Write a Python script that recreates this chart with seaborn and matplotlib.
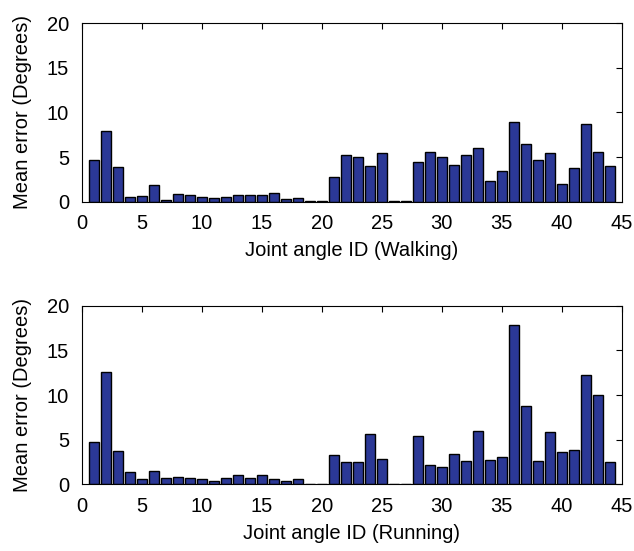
import numpy as np
import pandas as pd
import matplotlib
matplotlib.use("Agg")
import matplotlib.pyplot as plt
import seaborn as sns

joint_ids = list(range(1, 45))
walking = [4.7, 7.87, 3.86, 0.56, 0.6, 1.88, 0.22, 0.83, 0.8, 0.5,
           0.45, 0.5, 0.77, 0.7, 0.73, 0.95, 0.3, 0.45, 0.05, 0.05,
           2.8, 5.28, 5.0, 3.97, 5.43, 0.05, 0.05, 4.5, 5.58, 5.0,
           4.16, 5.28, 6.0, 2.29, 3.41, 8.92, 6.45, 4.7, 5.5, 1.95,
           3.75, 8.73, 5.58, 4.0]
running = [4.77, 12.54, 3.7, 1.34, 0.6, 1.49, 0.67, 0.78, 0.75, 0.6,
           0.37, 0.71, 1.08, 0.67, 1.0, 0.6, 0.41, 0.63, 0.03, 0.03,
           3.24, 2.53, 2.46, 5.67, 2.8, 0.03, 0.03, 5.44, 2.13, 1.97,
           3.39, 2.57, 6.0, 2.68, 3.02, 17.84, 8.73, 2.57, 5.82, 3.65,
           3.8, 12.3, 10.04, 2.46]
xticks = [0, 5, 10, 15, 20, 25, 30, 35, 40, 45]
yticks = [0, 5, 10, 15, 20]
xlabels = ["Joint angle ID (Walking)", "Joint angle ID (Running)"]
ylabel = "Mean error (Degrees)"

sns.set_style("white")
plt.rcParams['font.family'] = ['Liberation Sans', 'DejaVu Sans']
plt.rcParams['text.color'] = 'black'
plt.rcParams['axes.labelcolor'] = 'black'

fig = plt.figure(figsize=(6.34, 5.51), dpi=100)
positions = [[0.1289, 0.634, 0.8517, 0.3238], [0.1289, 0.121, 0.8517, 0.3241]]
bar_color = "#2B3896"

for pos, vals, xl in zip(positions, [walking, running], xlabels):
    ax = fig.add_axes(pos)
    df = pd.DataFrame({"joint": joint_ids, "err": vals})
    sns.barplot(data=df, x="joint", y="err", native_scale=True, color=bar_color,
                saturation=1, edgecolor="black", linewidth=1.0, width=0.8, ax=ax)
    ax.set_xlim(0, 45)
    ax.set_ylim(0, 20)
    ax.set_xticks(xticks)
    ax.set_yticks(yticks)
    ax.set_xticklabels([str(t) for t in xticks])
    ax.tick_params(direction="in", length=4, width=0.8, top=True, right=True,
                   labelsize=14.5, colors="black")
    ax.tick_params(axis="x", pad=9)
    ax.tick_params(axis="y", pad=9)
    ax.set_xlabel(xl, fontsize=14.5, labelpad=6, color="black")
    ax.set_ylabel(ylabel, fontsize=14.5, labelpad=11, color="black")
    for s in ax.spines.values():
        s.set_visible(True)
        s.set_color("black")
        s.set_linewidth(0.8)

fig.savefig("out.png", dpi=100)
